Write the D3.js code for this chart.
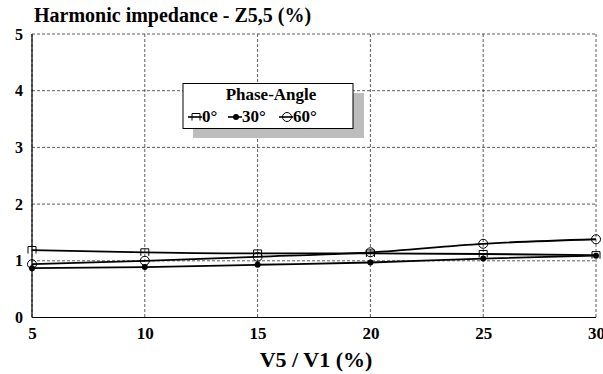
<!DOCTYPE html>
<html>
<head>
<meta charset="utf-8">
<script src="https://cdn.jsdelivr.net/npm/d3@7"></script>
<style>
  html, body { margin: 0; padding: 0; background: #fff; }
  svg text { font-family: "Liberation Serif", "Times New Roman", serif; font-weight: bold; fill: #000; }
</style>
</head>
<body>
<svg id="chart" width="603" height="374"></svg>
<script>
// Harmonic voltage ratio V5/V1 (%)
const ratios = [5, 10, 15, 20, 25, 30];
// Harmonic impedance Z5,5 (%) for each phase angle
const z0deg  = [1.19, 1.15, 1.13, 1.13, 1.12, 1.10];
const z30deg = [0.87, 0.89, 0.93, 0.97, 1.04, 1.09];
const z60deg = [0.94, 1.00, 1.07, 1.15, 1.30, 1.38];
const seriesNames = ["0°", "30°", "60°"];
const xTicks = [5, 10, 15, 20, 25, 30];
const yTicks = [0, 1, 2, 3, 4, 5];

const svg = d3.select("#chart");
const plotL = 32, plotR = 596, plotT = 34, plotB = 317.5;

const x = d3.scaleLinear().domain([5, 30]).range([plotL, plotR]);
const y = d3.scaleLinear().domain([0, 5]).range([plotB, plotT]);

// grid
const grid = svg.append("g");
grid.selectAll("line.v").data(xTicks).join("line")
  .attr("x1", d => x(d)).attr("x2", d => x(d))
  .attr("y1", plotT).attr("y2", plotB)
  .attr("stroke", "#333").attr("stroke-width", 0.8).attr("stroke-dasharray", "3,2");
grid.selectAll("line.h").data(yTicks).join("line")
  .attr("x1", plotL).attr("x2", plotR)
  .attr("y1", d => y(d)).attr("y2", d => y(d))
  .attr("stroke", "#333").attr("stroke-width", 0.8).attr("stroke-dasharray", "3,2");

// solid left and bottom axis lines
svg.append("line").attr("x1", plotL).attr("x2", plotL).attr("y1", plotT).attr("y2", plotB)
  .attr("stroke", "#000").attr("stroke-width", 1.2);
svg.append("line").attr("x1", plotL).attr("x2", plotR).attr("y1", plotB).attr("y2", plotB)
  .attr("stroke", "#000").attr("stroke-width", 1.2);

// axes (labels only)
const tickFont = "'Liberation Serif', 'Times New Roman', serif";
const xAxis = d3.axisBottom(x).tickValues(xTicks).tickSize(0).tickPadding(9).tickFormat(d3.format("d"));
const gx = svg.append("g").attr("transform", `translate(0,${plotB})`).call(xAxis)
  .attr("font-family", tickFont).attr("font-size", 17).attr("font-weight", "bold");
gx.select(".domain").remove();

const yAxis = d3.axisLeft(y).tickValues(yTicks).tickSize(0).tickPadding(9).tickFormat(d3.format("d"));
const gy = svg.append("g").attr("transform", `translate(${plotL},0)`).call(yAxis)
  .attr("font-family", tickFont).attr("font-size", 16).attr("font-weight", "bold");
gy.select(".domain").remove();

// lines
const series = [z0deg, z30deg, z60deg];
const line = d3.line().x((d, i) => x(ratios[i])).y(d => y(d)).curve(d3.curveMonotoneX);
series.forEach(vals => {
  svg.append("path").datum(vals).attr("d", line)
    .attr("fill", "none").attr("stroke", "#000").attr("stroke-width", 1.8);
});

// markers
function drawMarker(g, type, cx, cy) {
  if (type === 0) {
    g.append("path")
      .attr("d", `M${cx - 4},${cy + 3.5} L${cx - 4},${cy - 3.5} L${cx + 4},${cy - 3.5} L${cx + 4},${cy + 3.5}`)
      .attr("fill", "none").attr("stroke", "#000").attr("stroke-width", 1);
  } else if (type === 1) {
    g.append("circle").attr("cx", cx).attr("cy", cy).attr("r", 3)
      .attr("fill", "#000");
  } else {
    g.append("circle").attr("cx", cx).attr("cy", cy).attr("r", 4.5)
      .attr("fill", "none").attr("stroke", "#000").attr("stroke-width", 1);
  }
}
const markers = svg.append("g");
series.forEach((vals, s) => {
  vals.forEach((v, i) => drawMarker(markers, s, x(ratios[i]), y(v)));
});

// title
svg.append("text").attr("x", 34).attr("y", 22).style("font-size", "20px")
  .text("Harmonic impedance - Z5,5 (%)");

// x axis title
svg.append("text").attr("x", 316).attr("y", 367).attr("text-anchor", "middle")
  .style("font-size", "22px").text("V5 / V1 (%)");

// legend
const lg = svg.append("g");
lg.append("rect").attr("x", 193).attr("y", 93).attr("width", 171).attr("height", 45).attr("fill", "#bdbdbd");
lg.append("rect").attr("x", 183).attr("y", 83.5).attr("width", 170).attr("height", 45)
  .attr("fill", "#fff").attr("stroke", "#000").attr("stroke-width", 1);
lg.append("text").attr("x", 271).attr("y", 100).attr("text-anchor", "middle")
  .style("font-size", "17px").text("Phase-Angle");
const legendX = [188, 228, 279];
seriesNames.forEach((name, s) => {
  const lx = legendX[s], ly = 117;
  lg.append("line").attr("x1", lx).attr("x2", lx + 14).attr("y1", ly).attr("y2", ly)
    .attr("stroke", "#000").attr("stroke-width", 1.6);
  drawMarker(lg, s, lx + 8, ly);
  lg.append("text").attr("x", lx + 14).attr("y", ly + 5).style("font-size", "17px").text(name);
});
</script>
</body>
</html>
